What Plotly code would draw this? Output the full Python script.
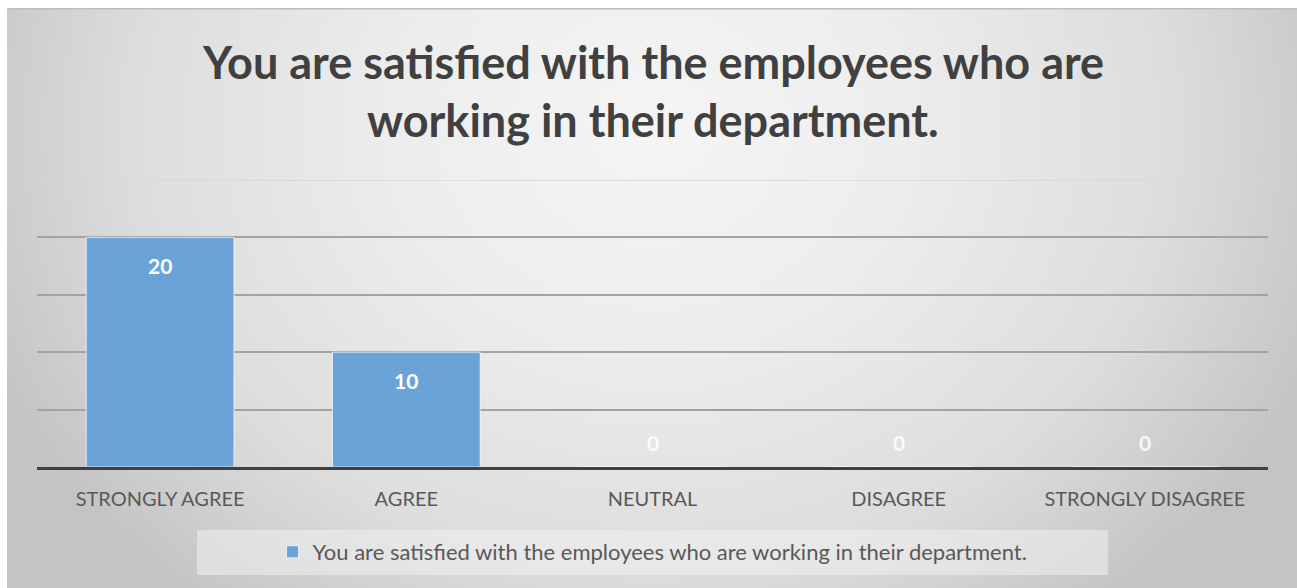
import base64
import plotly.graph_objects as go

# Survey responses
categories = ["STRONGLY AGREE", "AGREE", "NEUTRAL", "DISAGREE", "STRONGLY DISAGREE"]
responses = [20, 10, 0, 0, 0]
series_name = "You are satisfied with the employees who are working in their department."
title_lines = ["You are satisfied with the employees who are", "working in their department."]

W, H = 1297, 588
ML, MR, MT, MB = 37, 29, 180, 121
PW, PH = W - ML - MR, H - MT - MB


def px_x(p):
    return (p - ML) / PW


def px_y(p):
    return (H - MB - p) / PH


# Soft radial grey background for the chart area
svg = """<svg xmlns='http://www.w3.org/2000/svg' width='1290' height='580' viewBox='0 0 1290 580'>
<defs><radialGradient id='g' gradientUnits='userSpaceOnUse' cx='645' cy='120' r='720'
 gradientTransform='translate(645 120) scale(1 0.85) translate(-645 -120)'>
<stop offset='0' stop-color='#f5f5f5'/><stop offset='0.35' stop-color='#ededed'/>
<stop offset='0.72' stop-color='#dddddd'/><stop offset='1' stop-color='#c4c4c4'/>
</radialGradient></defs>
<rect x='0' y='0' width='1290' height='580' fill='url(#g)'/>
<rect x='0' y='0' width='1290' height='1.5' fill='#bdbdbd'/>
</svg>"""
bg_uri = "data:image/svg+xml;base64," + base64.b64encode(svg.encode()).decode()

fig = go.Figure()
fig.add_trace(go.Bar(
    x=categories, y=responses, name=series_name,
    marker=dict(color="#6aa3d7", line=dict(color="rgba(255,255,255,0.7)", width=1)),
    hoverinfo="x+y",
))

annotations = []
for cat, v in zip(categories, responses):
    annotations.append(dict(
        x=cat, y=v, xref="x", yref="y", text=f"<b>{v}</b>", showarrow=False,
        yanchor="middle", yshift=-28 if v > 0 else 25,
        font=dict(family="Lato", size=21,
                  color="white" if v > 0 else "rgba(255,255,255,0.85)"),
    ))
# Two-line chart title
for i, line in enumerate(title_lines):
    annotations.append(dict(
        x=0.5, y=px_y(62 + 58 * i), xref="paper", yref="paper", text=f"<b>{line}</b>",
        showarrow=False, xanchor="center", yanchor="middle",
        font=dict(family="Lato", size=45, color="#404040"),
    ))

shapes = [
    # top gridline, lighter than the rest
    dict(type="line", xref="paper", yref="y", x0=0, x1=1, y0=25, y1=25,
         line=dict(color="#d6d6d6", width=1.5), layer="below"),
    # legend panel
    dict(type="rect", xref="paper", yref="paper", x0=px_x(197), x1=px_x(1108),
         y0=px_y(575), y1=px_y(530), fillcolor="rgba(240,240,240,0.55)",
         line=dict(width=0), layer="below"),
]

fig.update_layout(
    width=W, height=H,
    margin=dict(l=ML, r=MR, t=MT, b=MB),
    paper_bgcolor="white", plot_bgcolor="rgba(0,0,0,0)",
    images=[dict(source=bg_uri, xref="paper", yref="paper",
                 x=px_x(7), y=px_y(8), sizex=(W - 7) / PW, sizey=(H - 8) / PH,
                 xanchor="left", yanchor="top", sizing="stretch", layer="below")],
    bargap=0.4,
    showlegend=True,
    legend=dict(orientation="h", x=0.5, xanchor="center", y=px_y(552), yanchor="middle",
                bgcolor="rgba(0,0,0,0)", itemwidth=30,
                font=dict(family="Lato", size=22, color="#595959")),
    xaxis=dict(showline=True, linecolor="#404040", linewidth=3, ticks="",
               tickfont=dict(family="Lato", size=20, color="#595959"), ticklabelstandoff=12,
               fixedrange=True),
    yaxis=dict(range=[0, 25], tickvals=[0, 5, 10, 15, 20], showticklabels=False,
               gridcolor="#a3a3a3", gridwidth=1.5, zeroline=False, fixedrange=True),
    annotations=annotations,
    shapes=shapes,
)

fig.write_html("out.html")
